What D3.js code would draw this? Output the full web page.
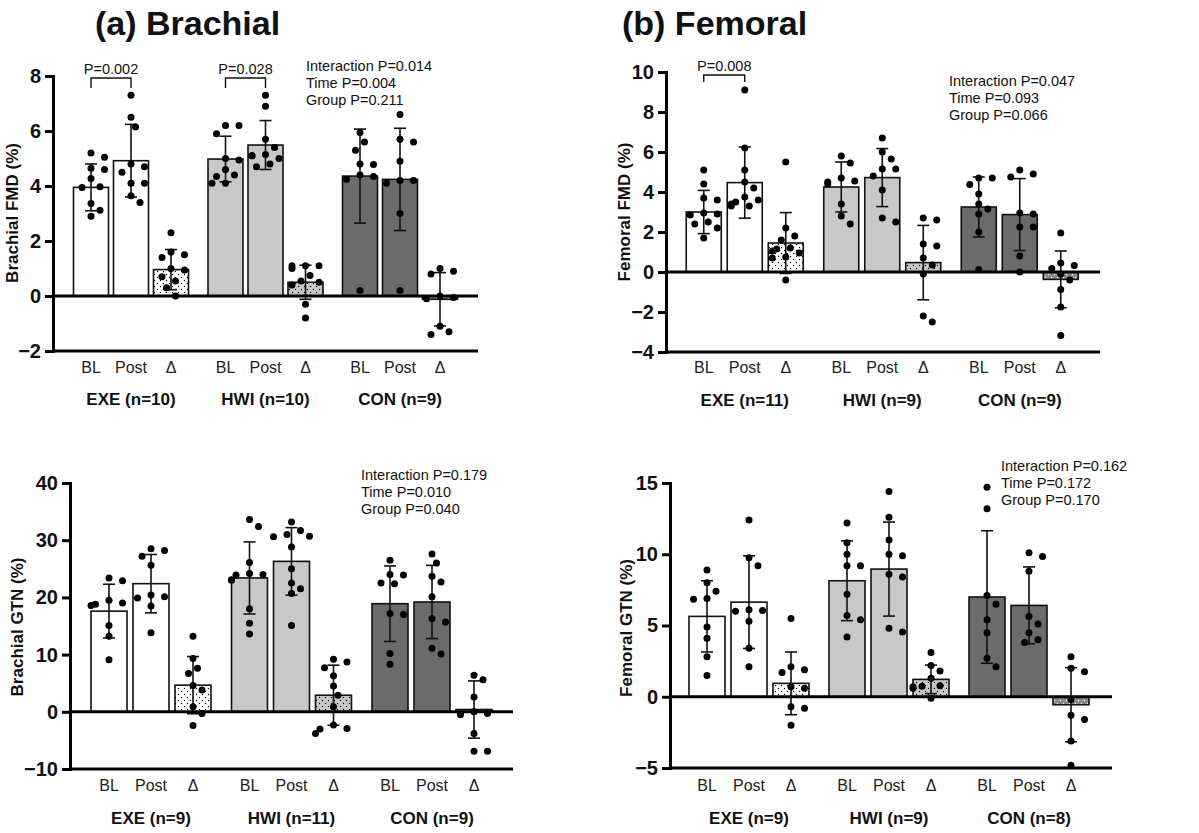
<!DOCTYPE html>
<html><head><meta charset="utf-8">
<script src="https://cdn.jsdelivr.net/npm/d3@7"></script>
<style>body{margin:0;background:#fff}svg{font-family:"Liberation Sans",Arial,sans-serif}</style>
</head><body><svg id="c" width="1199" height="833"></svg>
<script>
// ---------- DATA ----------
const groups = ["EXE","HWI","CON"];
const conds = ["BL","Post","Δ"];
const tickLabels = ["BL","Post","Δ"];

// Brachial FMD
const bFmdN = ["EXE (n=10)","HWI (n=10)","CON (n=9)"];
const bFmdMean = [3.95,4.92,0.96, 4.98,5.49,0.5, 4.36,4.24,-0.12];
const bFmdSD   = [0.85,1.32,0.73, 0.83,0.89,0.62, 1.71,1.86,0.97];
const bFmdDots = [
 [5.2,5.05,4.65,4.6,4.27,3.95,3.97,3.36,3.12,2.9],
 [7.3,6.5,6.15,4.8,4.7,4.5,4.1,4.1,3.65,3.4],
 [2.3,1.5,1.4,1.6,1.0,0.95,0.7,0.55,0.3,0.0],
 [6.2,6.2,5.9,5.0,4.95,4.6,4.4,4.35,4.1,4.1],
 [7.3,6.9,5.7,5.4,5.1,5.1,5.0,4.8,4.7,5.15],
 [1.1,1.1,1.1,1.0,0.75,0.55,0.5,0.4,-0.3,-0.8],
 [5.95,5.6,5.3,4.8,4.78,4.4,4.35,4.25,0.2],
 [6.6,5.7,5.6,4.9,4.2,4.2,4.1,3.0,0.2],
 [1.0,0.9,0.8,0.0,-0.05,-0.1,-1.1,-1.3,-1.4]];
const bFmdStats = ["Interaction P=0.014","Time P=0.004","Group P=0.211"];

// Femoral FMD
const fFmdN = ["EXE (n=11)","HWI (n=9)","CON (n=9)"];
const fFmdMean = [3.0,4.47,1.45, 4.25,4.72,0.47, 3.25,2.87,-0.37];
const fFmdSD   = [1.08,1.78,1.52, 1.25,1.45,1.86, 1.5,1.8,1.42];
const fFmdDots = [
 [5.1,4.4,3.7,3.6,2.95,2.9,2.85,2.5,2.4,2.2,1.7],
 [9.1,6.2,5.1,4.5,4.2,3.6,3.5,3.4,3.3,3.3,3.75],
 [5.5,2.2,1.8,1.6,1.2,1.15,1.05,0.95,0.75,0.7,-0.4],
 [5.8,5.45,4.7,4.55,4.5,3.4,2.8,2.4,4.4],
 [6.7,6.0,5.65,5.15,5.15,4.8,4.1,2.7,2.5],
 [2.7,2.6,1.4,1.3,0.7,0.35,-0.1,-2.2,-2.5],
 [4.7,4.7,4.38,3.9,3.4,3.15,2.9,2.0,0.13],
 [5.1,4.9,2.95,2.9,2.25,2.25,0.8,0.0,4.75],
 [1.95,0.45,0.33,0.17,-0.4,-0.88,-1.75,-3.17,-0.1]];
const fFmdStats = ["Interaction P=0.047","Time P=0.093","Group P=0.066"];

// Brachial GTN
const bGtnN = ["EXE (n=9)","HWI (n=11)","CON (n=9)"];
const bGtnMean = [17.6,22.4,4.66, 23.4,26.3,2.9, 18.9,19.2,0.4];
const bGtnSD   = [4.7,5.1,5.0, 6.3,5.9,5.25, 6.6,6.4,5.0];
const bGtnDots = [
 [23.4,22.9,19.5,19.0,18.8,18.6,15.1,13.2,9.1],
 [28.5,28.2,27.2,25.6,20.1,19.9,18.5,13.8,20.4],
 [13.2,9.3,7.6,6.7,4.6,3.8,0.9,-0.3,-2.4],
 [33.6,32.4,26.1,24.0,23.9,23.1,23.0,15.5,13.6,18.0,24.2],
 [33.2,31.7,31.0,30.7,30.6,28.8,25.0,22.5,21.5,20.7,15.1],
 [9.2,8.7,7.7,6.3,4.5,0.9,-2.3,-2.9,-3.0,-3.8,2.9],
 [26.5,24.0,22.4,17.2,17.0,10.2,8.3,23.9,22.5],
 [27.6,26.0,23.7,22.7,20.1,16.3,15.7,11.1,10.1],
 [6.4,5.6,2.6,-0.3,-0.5,-3.8,-6.9,-6.9,0.0]];
const bGtnStats = ["Interaction P=0.179","Time P=0.010","Group P=0.040"];

// Femoral GTN
const fGtnN = ["EXE (n=9)","HWI (n=9)","CON (n=8)"];
const fGtnMean = [5.64,6.64,0.94, 8.14,8.96,1.22, 7.0,6.41,-0.56];
const fGtnSD   = [2.5,3.25,2.2, 2.8,3.3,1.0, 4.65,2.7,2.6];
const fGtnDots = [
 [8.9,8.0,7.4,6.85,6.9,4.9,4.1,2.8,1.5],
 [12.4,9.75,9.2,6.1,6.05,6.0,5.3,3.4,2.1],
 [5.5,2.1,1.9,1.7,0.7,0.6,-0.7,-0.8,-2.0],
 [12.2,10.8,10.0,9.2,9.2,7.2,5.7,5.4,4.2],
 [14.4,12.6,11.0,10.0,9.9,8.6,8.4,4.8,4.55],
 [3.1,2.2,1.8,1.3,0.78,0.73,0.7,0.6,-0.1],
 [14.7,13.2,7.1,6.5,5.4,4.5,2.7,2.1],
 [10.1,9.85,8.8,5.64,5.1,4.0,3.8,4.5],
 [2.8,2.0,1.75,-0.2,-1.3,-1.6,-3.1,-4.8]];
const fGtnStats = ["Interaction P=0.162","Time P=0.172","Group P=0.170"];

// ---------- LAYOUT ----------
const svg = d3.select("#c");
const defs = svg.append("defs");
[["pw","#ffffff","#000"],["pl","#c8c8c8","#000"],["pd","#8a8a8a","#fff"]].forEach(([id,bg,fg])=>{
  const p = defs.append("pattern").attr("id",id).attr("patternUnits","userSpaceOnUse").attr("width",6).attr("height",6);
  p.append("rect").attr("width",6).attr("height",6).attr("fill",bg);
  p.append("circle").attr("cx",1.5).attr("cy",1.5).attr("r",0.7).attr("fill",fg);
  p.append("circle").attr("cx",4.5).attr("cy",4.5).attr("r",0.7).attr("fill",fg);
});
const solidFill = ["#ffffff","#c8c8c8","#6b6b6b"];
const deltaFill = ["url(#pw)","url(#pl)","url(#pd)"];

function panel(o){
  const y = d3.scaleLinear().domain(o.domain).range([o.yBot,o.yTop]);
  const gx = d3.scaleBand().domain(groups).range(o.gRange);
  const ix = d3.scalePoint().domain(conds).range([-o.step,o.step]);
  const g = svg.append("g");
  const cx = (gi,ci)=>gx(groups[gi])+gx.bandwidth()/2+ix(conds[ci]);
  const r = 3.5;
  for(let gi=0;gi<3;gi++) for(let ci=0;ci<3;ci++){
    const k = gi*3+ci, x = cx(gi,ci), m = o.mean[k], sd = o.sd[k];
    g.append("rect").attr("x",x-o.bw/2).attr("width",o.bw)
      .attr("y",Math.min(y(m),y(0))).attr("height",Math.abs(y(m)-y(0)))
      .attr("fill", ci===2?deltaFill[gi]:solidFill[gi]).attr("stroke","#111").attr("stroke-width",1.6);
    g.append("line").attr("x1",x).attr("x2",x).attr("y1",y(m+sd)).attr("y2",y(m-sd)).attr("stroke","#111").attr("stroke-width",1.6);
    [m+sd,m-sd].forEach(v=>g.append("line").attr("x1",x-6).attr("x2",x+6).attr("y1",y(v)).attr("y2",y(v)).attr("stroke","#111").attr("stroke-width",1.6));
    const placed=[];
    o.dots[k].slice().sort((a,b)=>b-a).forEach(v=>{
      const py=y(v); let best=0;
      for(let s=0;s<14;s++){
        const off = (s%2?1:-1)*Math.ceil(s/2)*4.5;
        if(Math.abs(off)>o.bw/2) continue;
        if(placed.every(p=>Math.hypot(p[0]-off,p[1]-py)>=2*r+3)){best=off;break;}
        best=off;
      }
      placed.push([best,py]);
    });
    placed.forEach(p=>g.append("circle").attr("cx",x+p[0]).attr("cy",p[1]).attr("r",r).attr("fill","#000"));
    g.append("text").attr("x",x).attr("y",o.catY).attr("text-anchor","middle").attr("font-size",16).attr("fill","#222").text(tickLabels[ci]);
  }
  groups.forEach((gr,gi)=>g.append("text").attr("x",gx(gr)+gx.bandwidth()/2).attr("y",o.grpY).attr("text-anchor","middle")
     .attr("font-size",17).attr("font-weight","bold").attr("fill","#111").text(o.n[gi]));
  g.append("line").attr("x1",o.x0).attr("x2",o.x1).attr("y1",y(0)).attr("y2",y(0)).attr("stroke","#000").attr("stroke-width",3);
  g.append("line").attr("x1",o.x0).attr("x2",o.x1).attr("y1",o.yBot).attr("y2",o.yBot).attr("stroke","#000").attr("stroke-width",3);
  const ax = g.append("g").attr("transform",`translate(${o.x0},0)`)
     .call(d3.axisLeft(y).tickValues(d3.range(o.domain[0],o.domain[1]+0.001,o.tick)).tickSize(8).tickPadding(4));
  ax.select(".domain").attr("stroke-width",3).attr("stroke","#000");
  ax.selectAll(".tick line").attr("stroke-width",3).attr("stroke","#000");
  ax.selectAll(".tick text").attr("font-size",20).attr("font-weight","bold").attr("fill","#111")
     .attr("font-family","'Liberation Sans',Arial,sans-serif");
  g.append("text").attr("transform",`translate(${o.ylx},${o.yly}) rotate(-90)`).attr("text-anchor","middle")
     .attr("font-size",17).attr("font-weight","bold").attr("fill","#111").text(o.ylabel);
  o.stats.forEach((s,i)=>g.append("text").attr("x",o.sx).attr("y",o.sy+i*17).attr("font-size",14.5).attr("fill","#111").text(s));
  (o.brackets||[]).forEach(b=>{
    const xa=cx(b.g,0), xb=cx(b.g,1);
    g.append("path").attr("d",`M${xa},${b.y2}V${b.y1}H${xb}V${b.y2}`).attr("fill","none").attr("stroke","#111").attr("stroke-width",1.4);
    g.append("text").attr("x",(xa+xb)/2).attr("y",b.y1-4).attr("text-anchor","middle").attr("font-size",14.5).attr("fill","#111").text(b.t);
  });
}

svg.append("text").attr("x",95).attr("y",35).attr("font-size",34).attr("font-weight","bold").attr("fill","#111").text("(a) Brachial");
svg.append("text").attr("x",622).attr("y",35).attr("font-size",34).attr("font-weight","bold").attr("fill","#111").text("(b) Femoral");

panel({domain:[-2,8],tick:2,yTop:76,yBot:351,x0:53,x1:478,gRange:[63.75,467.25],step:40,bw:35,
  mean:bFmdMean,sd:bFmdSD,dots:bFmdDots,n:bFmdN,catY:373,grpY:405,ylabel:"Brachial FMD (%)",ylx:18,yly:213,
  stats:bFmdStats,sx:306,sy:71,brackets:[{g:0,y1:78,y2:88,t:"P=0.002"},{g:1,y1:78,y2:88,t:"P=0.028"}]});
panel({domain:[-4,10],tick:2,yTop:72,yBot:352,x0:666,x1:1100,gRange:[676,1088.5],step:41,bw:35,
  mean:fFmdMean,sd:fFmdSD,dots:fFmdDots,n:fFmdN,catY:373,grpY:406,ylabel:"Femoral FMD (%)",ylx:630,yly:212,
  stats:fFmdStats,sx:949,sy:86,brackets:[{g:0,y1:75,y2:82,t:"P=0.008"}]});
panel({domain:[-10,40],tick:10,yTop:483,yBot:769,x0:70,x1:513,gRange:[80.75,502.25],step:42,bw:36,
  mean:bGtnMean,sd:bGtnSD,dots:bGtnDots,n:bGtnN,catY:791,grpY:824,ylabel:"Brachial GTN (%)",ylx:23,yly:627,
  stats:bGtnStats,sx:361,sy:480});
panel({domain:[-5,15],tick:5,yTop:483,yBot:768,x0:670,x1:1112,gRange:[679,1099],step:42,bw:36,
  mean:fGtnMean,sd:fGtnSD,dots:fGtnDots,n:fGtnN,catY:791,grpY:824,ylabel:"Femoral GTN (%)",ylx:632,yly:628,
  stats:fGtnStats,sx:1001,sy:471});
</script></body></html>
